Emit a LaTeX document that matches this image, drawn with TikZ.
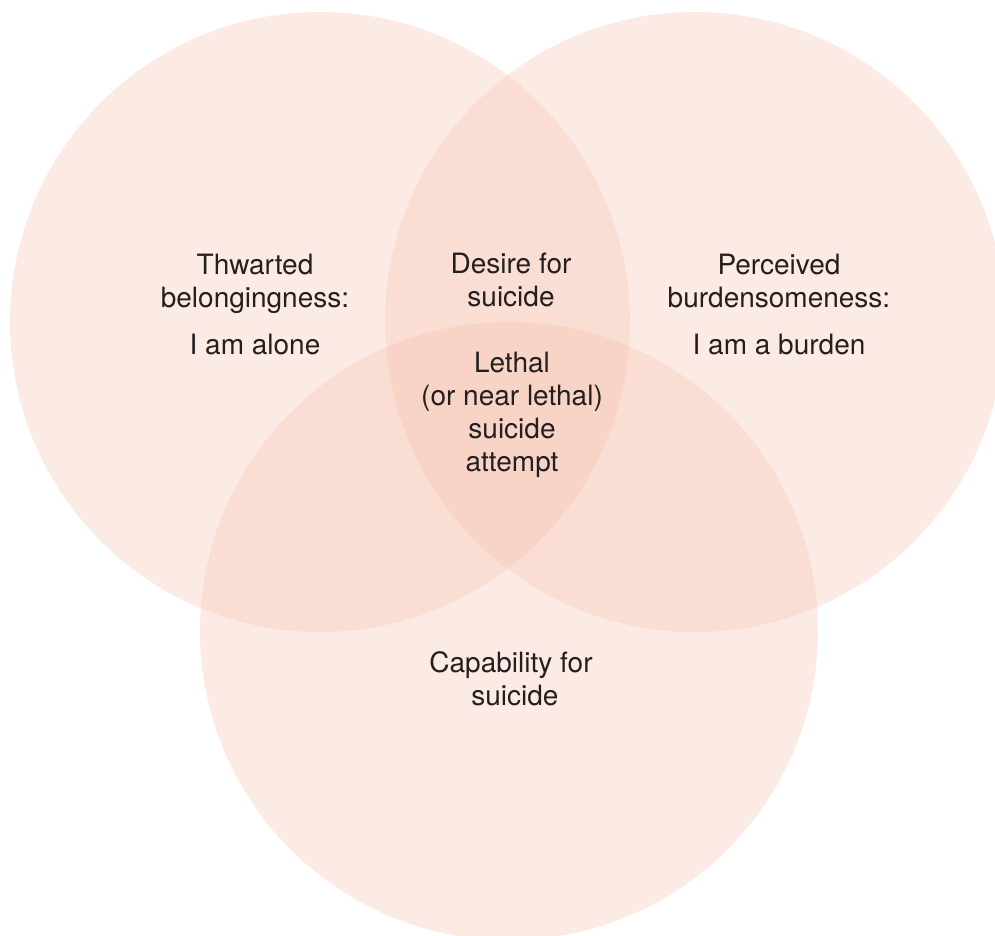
\documentclass[tikz,border=0pt]{standalone}
\usepackage{fontspec}
\setmainfont{TeX Gyre Heros}
\usetikzlibrary{positioning}
\definecolor{venn-pink}{RGB}{246, 196, 178}
\definecolor{label-grey}{RGB}{35, 31, 32}
\tikzset{
  venn/.style={fill=venn-pink, fill opacity=0.35},
  vennlabel/.style={align=center, inner sep=0pt, text=label-grey,
    font=\fontsize{28}{33}\selectfont}
}

\begin{document}
\begin{tikzpicture}[x=1pt, y=-1pt]
\useasboundingbox (0,0) rectangle (995,935);
\clip (0,0) rectangle (995,935);

\fill[venn] (320,322) circle (310);
\fill[venn] (695,322) circle (310);
\fill[venn] (509,631) circle (309);

\node[vennlabel] (belong) at (255,304) {Thwarted\\belongingness:\\[14pt]I am alone};
\node[vennlabel] (burden) at (779,304) {Perceived\\burdensomeness:\\[14pt]I am a burden};
\node[vennlabel] (desire) at (511,280) {Desire for\\suicide};
\node[vennlabel] (lethal) at (512,415) {Lethal\\(or near lethal)\\suicide\\attempt};
\node[vennlabel] (capable) at (511,679) {Capability for\\\ suicide};

\end{tikzpicture}
\end{document}
